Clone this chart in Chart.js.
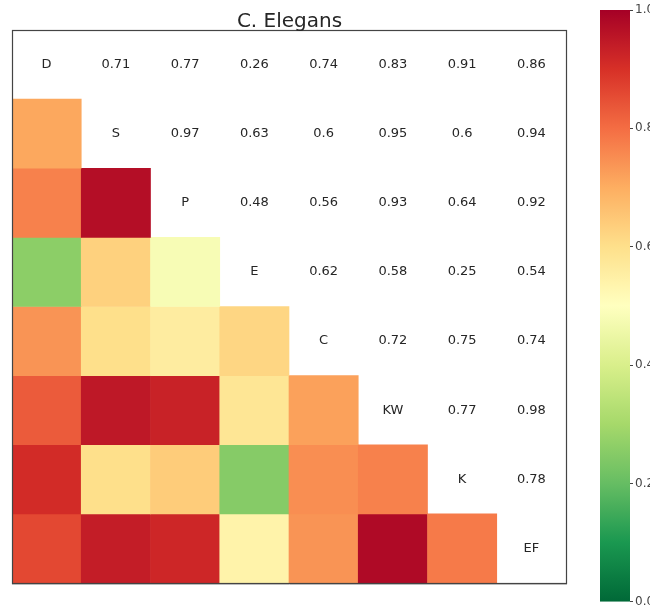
<!DOCTYPE html>
<html>
<head>
<meta charset="utf-8">
<title>C. Elegans</title>
<script src="https://cdn.jsdelivr.net/npm/chart.js@4/dist/chart.umd.min.js"></script>
<style>
  html, body { margin: 0; padding: 0; background: #fff; overflow: hidden; }
  #wrap { position: relative; width: 650px; height: 611px; overflow: hidden; }
  #heat { position: absolute; left: 0; top: 0; }
  #bar { position: absolute; left: 590px; top: 0; }
</style>
</head>
<body>
<div id="wrap">
  <canvas id="heat" width="650" height="611"></canvas>
  <canvas id="bar" width="100" height="611"></canvas>
</div>
<script>
// Measures compared pairwise
const names = ['D', 'S', 'P', 'E', 'C', 'KW', 'K', 'EF'];

// Correlation of each measure with the ones that follow it
const rowD  = [0.71, 0.77, 0.26, 0.74, 0.83, 0.91, 0.86];
const rowS  = [0.97, 0.63, 0.6, 0.95, 0.6, 0.94];
const rowP  = [0.48, 0.56, 0.93, 0.64, 0.92];
const rowE  = [0.62, 0.58, 0.25, 0.54];
const rowC  = [0.72, 0.75, 0.74];
const rowKW = [0.77, 0.98];
const rowK  = [0.78];

const upperRows = [rowD, rowS, rowP, rowE, rowC, rowKW, rowK, []];

const colorbarTicks = [0.0, 0.2, 0.4, 0.6, 0.8, 1.0];

// Full symmetric matrix built from the upper triangle
const n = names.length;
const corr = names.map(() => new Array(n).fill(1));
upperRows.forEach((row, i) => {
  row.forEach((v, k) => {
    const j = i + 1 + k;
    corr[i][j] = v;
    corr[j][i] = v;
  });
});

// RdYlGn colour map
const rdylgn = ['#006837', '#1a9850', '#66bd63', '#a6d96a', '#d9ef8b', '#ffffbf',
                '#fee08b', '#fdae61', '#f46d43', '#d73027', '#a50026'];
function hexToRgb(h) {
  return [parseInt(h.slice(1, 3), 16), parseInt(h.slice(3, 5), 16), parseInt(h.slice(5, 7), 16)];
}
const stops = rdylgn.map(hexToRgb);
function cmap(t) {
  t = Math.max(0, Math.min(1, t));
  const p = t * (stops.length - 1);
  const i = Math.min(Math.floor(p), stops.length - 2);
  const f = p - i;
  const a = stops[i], b = stops[i + 1];
  const c = a.map((x, k) => Math.round(x + (b[k] - x) * f));
  return `rgb(${c[0]},${c[1]},${c[2]})`;
}

// One floating-bar dataset per row: cells below the diagonal only
const datasets = names.map((_, i) => ({
  label: names[i],
  data: names.map((_, j) => (j < i ? [i, i + 1] : null)),
  backgroundColor: names.map((_, j) => (j < i ? cmap(corr[i][j]) : 'rgba(0,0,0,0)')),
  borderWidth: 0,
  grouped: false,
  barPercentage: 1.0,
  categoryPercentage: 1.0
}));

const textColor = '#262626';

const cellText = {
  id: 'cellText',
  afterDatasetsDraw(chart) {
    const { ctx, scales: { x, y } } = chart;
    ctx.save();
    ctx.fillStyle = textColor;
    ctx.font = '13px "DejaVu Sans"';
    ctx.textAlign = 'center';
    ctx.textBaseline = 'middle';
    for (let i = 0; i < n; i++) {
      for (let j = i; j < n; j++) {
        const px = x.getPixelForValue(j);
        const py = y.getPixelForValue(i + 0.5);
        const txt = i === j ? names[i] : String(corr[i][j]);
        ctx.fillText(txt, px, py);
      }
    }
    ctx.restore();
  },
  afterDraw(chart) {
    const { ctx, chartArea: a } = chart;
    ctx.save();
    // soft shadow under the bottom edge
    ctx.strokeStyle = '#c8c8c8';
    ctx.lineWidth = 1;
    ctx.beginPath();
    ctx.moveTo(a.left, a.bottom + 1.5);
    ctx.lineTo(a.right + 1, a.bottom + 1.5);
    ctx.stroke();
    // frame
    ctx.strokeStyle = '#444';
    ctx.lineWidth = 1.2;
    ctx.strokeRect(a.left + 0.5, a.top + 0.5, a.right - a.left, a.bottom - a.top);
    // title
    ctx.fillStyle = textColor;
    ctx.font = '20px "DejaVu Sans"';
    ctx.textAlign = 'center';
    ctx.textBaseline = 'alphabetic';
    ctx.fillText('C. Elegans', (a.left + a.right) / 2 + 0.5, a.top - 3);
    ctx.restore();
  }
};

new Chart(document.getElementById('heat'), {
  type: 'bar',
  data: { labels: names, datasets },
  options: {
    responsive: false,
    animation: false,
    events: [],
    layout: { padding: { left: 12, right: 84, top: 30, bottom: 28 } },
    plugins: { legend: { display: false }, tooltip: { enabled: false }, title: { display: false } },
    scales: {
      x: { type: 'category', display: false, offset: true },
      y: { type: 'linear', display: false, min: 0, max: n, reverse: true }
    }
  },
  plugins: [cellText]
});

// Colour bar
new Chart(document.getElementById('bar'), {
  type: 'bar',
  data: {
    labels: [''],
    datasets: [{
      data: [[0, 1]],
      borderWidth: 0,
      barPercentage: 1.0,
      categoryPercentage: 1.0,
      backgroundColor(ctx) {
        const chart = ctx.chart;
        const area = chart.chartArea;
        if (!area) return null;
        const ys = chart.scales.y;
        const g = chart.ctx.createLinearGradient(0, ys.getPixelForValue(0), 0, ys.getPixelForValue(1));
        for (let k = 0; k <= 50; k++) {
          const t = k / 50;
          g.addColorStop(t, cmap(t));
        }
        return g;
      }
    }]
  },
  options: {
    responsive: false,
    animation: false,
    events: [],
    layout: { padding: { left: 10, right: 20, top: 10, bottom: 6 } },
    plugins: { legend: { display: false }, tooltip: { enabled: false } },
    scales: {
      x: { display: false },
      y: {
        position: 'right',
        min: 0,
        max: 1,
        afterFit(scale) { scale.width = 40; },
        afterBuildTicks(scale) { scale.ticks = colorbarTicks.map(v => ({ value: v })); },
        border: { display: false },
        grid: { drawOnChartArea: false, drawTicks: true, tickLength: 3, color: '#444' },
        ticks: {
          padding: 2,
          color: '#444',
          font: { family: 'DejaVu Sans', size: 12 },
          callback: (v) => Number(v).toFixed(1)
        }
      }
    }
  }
});
</script>
</body>
</html>
